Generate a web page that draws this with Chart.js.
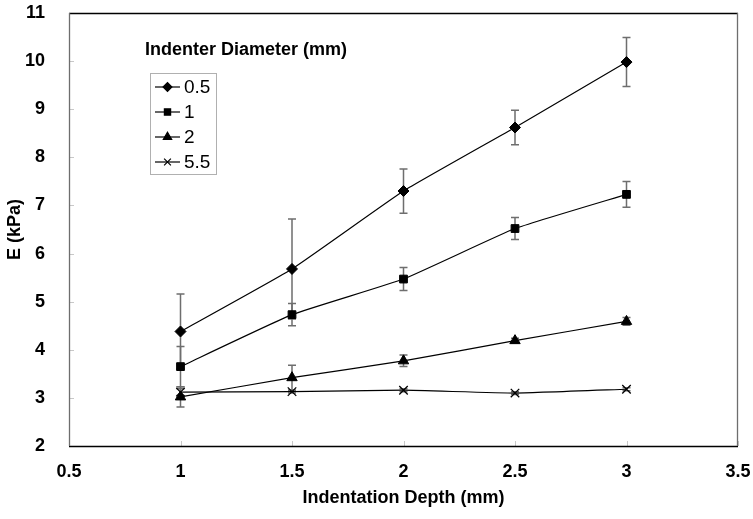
<!DOCTYPE html>
<html><head><meta charset="utf-8">
<script src="https://cdn.jsdelivr.net/npm/chart.js@4.4.0/dist/chart.umd.min.js"></script>
<style>html,body{margin:0;padding:0;background:#fff}#wrap{width:753px;height:519px}</style>
</head><body><div id="wrap"><canvas id="c"></canvas></div>
<script>
const depths = [1, 1.5, 2, 2.5, 3];
const seriesNames = ['0.5', '1', '2', '5.5'];
const e05 = [4.38, 5.68, 7.30, 8.62, 9.98];
const err05 = [0.78, 1.04, 0.46, 0.36, 0.51];
const e1 = [3.65, 4.73, 5.47, 6.52, 7.23];
const err1 = [0.42, 0.23, 0.24, 0.23, 0.27];
const e2 = [3.02, 3.42, 3.77, 4.19, 4.59];
const err2 = [0.21, 0.26, 0.12, 0.05, 0.08];
const e55 = [3.12, 3.13, 3.16, 3.10, 3.18];
const err55 = [0.07, 0.03, 0.03, 0.03, 0.03];
const xTicks = [0.5, 1, 1.5, 2, 2.5, 3, 3.5];
const yTicks = [2, 3, 4, 5, 6, 7, 8, 9, 10, 11];
const legendTitle = 'Indenter Diameter (mm)';
const xTitle = 'Indentation Depth (mm)';
const yTitle = 'E (kPa)';

const styles = ['rectRot', 'rect', 'triangle', 'crossRot'];
const radii = [5.5, 5.5, 6, 6];
const vals = [e05, e1, e2, e55];
const errs = [err05, err1, err2, err55];

const datasets = vals.map((v, i) => ({
  label: seriesNames[i],
  data: depths.map((d, j) => ({x: d, y: v[j]})),
  errs: errs[i],
  borderColor: '#000',
  backgroundColor: '#000',
  borderWidth: 1.2,
  pointStyle: styles[i],
  pointRadius: radii[i],
  pointBorderWidth: i === 3 ? 1.3 : 1,
  pointBorderColor: '#000',
  pointBackgroundColor: '#000',
  tension: 0.12,
  fill: false
}));

const FONT = '"Liberation Sans", Arial, sans-serif';

const deco = {
  id: 'deco',
  beforeDatasetsDraw(chart) {
    const ctx = chart.ctx, xs = chart.scales.x, ys = chart.scales.y;
    ctx.save();
    ctx.strokeStyle = '#6e6e6e';
    ctx.lineWidth = 1.5;
    chart.data.datasets.forEach(ds => {
      ds.data.forEach((p, j) => {
        const e = ds.errs[j];
        const px = xs.getPixelForValue(p.x);
        const top = ys.getPixelForValue(p.y + e);
        const bot = ys.getPixelForValue(p.y - e);
        ctx.beginPath();
        ctx.moveTo(px, top); ctx.lineTo(px, bot);
        ctx.moveTo(px - 4, top); ctx.lineTo(px + 4, top);
        ctx.moveTo(px - 4, bot); ctx.lineTo(px + 4, bot);
        ctx.stroke();
      });
    });
    ctx.restore();
  },
  afterDraw(chart) {
    const ctx = chart.ctx, xs = chart.scales.x, ys = chart.scales.y;
    const L = Math.round(xs.getPixelForValue(xTicks[0]));
    const R = Math.round(xs.getPixelForValue(xTicks[xTicks.length - 1]));
    const T = Math.round(ys.getPixelForValue(yTicks[yTicks.length - 1]));
    const B = Math.round(ys.getPixelForValue(yTicks[0]));
    ctx.save();
    ctx.strokeStyle = '#c8c8c8';
    ctx.lineWidth = 1;
    xTicks.forEach(t => {
      const px = Math.round(xs.getPixelForValue(t)) + 0.5;
      ctx.beginPath(); ctx.moveTo(px, B); ctx.lineTo(px, B - 5); ctx.stroke();
    });
    yTicks.forEach(t => {
      const py = Math.round(ys.getPixelForValue(t)) + 0.5;
      ctx.beginPath(); ctx.moveTo(L, py); ctx.lineTo(L + 5, py); ctx.stroke();
    });
    ctx.lineWidth = 1.3;
    ctx.strokeStyle = '#000';
    ctx.beginPath(); ctx.moveTo(L, T + 0.5); ctx.lineTo(R, T + 0.5); ctx.stroke();
    ctx.beginPath(); ctx.moveTo(L, B + 0.5); ctx.lineTo(R, B + 0.5); ctx.stroke();
    ctx.strokeStyle = '#6e6e6e';
    ctx.beginPath(); ctx.moveTo(L + 0.5, T); ctx.lineTo(L + 0.5, B); ctx.stroke();
    ctx.beginPath(); ctx.moveTo(R - 0.5, T); ctx.lineTo(R - 0.5, B); ctx.stroke();

    ctx.fillStyle = '#000';
    ctx.font = 'bold 18px ' + FONT;
    ctx.textBaseline = 'middle';
    ctx.textAlign = 'left';
    ctx.fillText(legendTitle, 145, 50);
    const bx = 150.5, by = 73.5, bw = 66, bh = 101;
    ctx.strokeStyle = '#b0b0b0';
    ctx.lineWidth = 1;
    ctx.strokeRect(bx, by, bw, bh);
    chart.data.datasets.forEach((ds, i) => {
      const y = 87 + i * 25;
      ctx.strokeStyle = '#000';
      ctx.lineWidth = 1.2;
      ctx.beginPath(); ctx.moveTo(155, y); ctx.lineTo(180, y); ctx.stroke();
      ctx.fillStyle = '#000';
      Chart.helpers.drawPoint(ctx, {pointStyle: ds.pointStyle, radius: ds.pointRadius * 0.8, borderWidth: 1}, 167.5, y);
      ctx.fillStyle = '#000';
      ctx.font = '19px ' + FONT;
      ctx.fillText(ds.label, 184, y + 1);
    });
    ctx.restore();
  }
};

new Chart(document.getElementById('c'), {
  type: 'line',
  data: {datasets},
  options: {
    responsive: true,
    maintainAspectRatio: false,
    animation: false,
    layout: {padding: {top: 0, right: 0, left: 0, bottom: 0}},
    plugins: {legend: {display: false}, tooltip: {enabled: false}},
    scales: {
      x: {
        type: 'linear', min: 0.5, max: 3.5,
        afterBuildTicks: s => { s.ticks = xTicks.map(v => ({value: v})); },
        afterFit: s => { s.height = 73; s.paddingRight = 15; },
        grid: {display: false},
        border: {display: false},
        ticks: {color: '#000', font: {family: FONT, size: 18, weight: 'bold'}, padding: 7, maxRotation: 0, autoSkip: false, callback: v => String(v)},
        title: {display: true, text: xTitle, color: '#000', font: {family: FONT, size: 18, weight: 'bold'}, padding: {top: 0, bottom: 10}}
      },
      y: {
        type: 'linear', min: 2, max: 11,
        afterBuildTicks: s => { s.ticks = yTicks.map(v => ({value: v})); },
        afterFit: s => { s.width = 69; s.paddingTop = 13; },
        grid: {display: false},
        border: {display: false},
        ticks: {color: '#000', font: {family: FONT, size: 18, weight: 'bold'}, padding: 16, autoSkip: false, callback: v => String(v)},
        title: {display: true, text: yTitle, color: '#000', font: {family: FONT, size: 18, weight: 'bold'}, padding: {bottom: 2}}
      }
    }
  },
  plugins: [deco]
});
</script></body></html>
